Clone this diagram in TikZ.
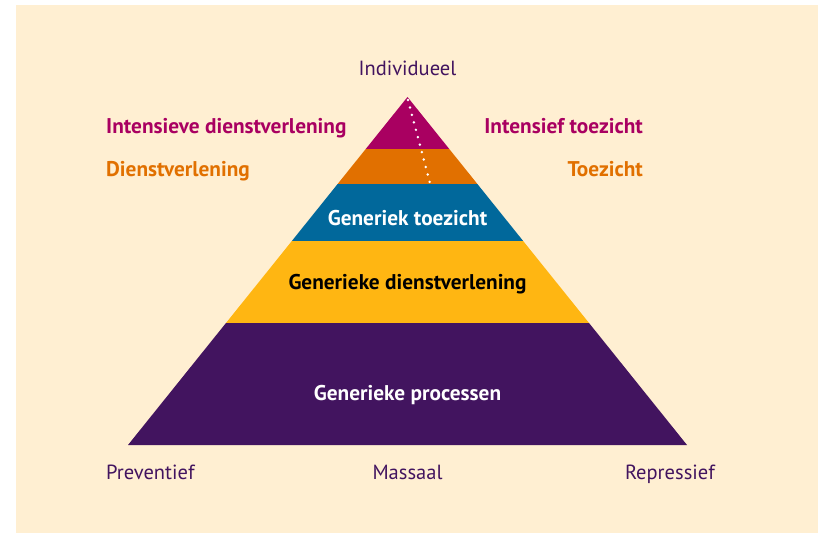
\documentclass[tikz,border=0pt]{standalone}
\usepackage{fontspec}
\setmainfont{PT Sans}
\definecolor{cream}{HTML}{FFEFD2}
\definecolor{rvviolet}{HTML}{A90061}
\definecolor{rvorange}{HTML}{E17000}
\definecolor{rvblue}{HTML}{01689B}
\definecolor{rvyellow}{HTML}{FFB612}
\definecolor{rvpurple}{HTML}{42145F}
\tikzset{
  lbl/.style={font=\fontsize{21.3}{24}\selectfont\bfseries, inner sep=0pt},
  axis/.style={font=\fontsize{20.5}{23}\selectfont, text=rvpurple, inner sep=0pt},
}
\begin{document}
\begin{tikzpicture}[x=1pt,y=-1pt]
\useasboundingbox (0,0) rectangle (818,534);
\fill[white] (0,0) rectangle (818,534);
\fill[cream] (16,5) rectangle (818,533);
\coordinate (apex) at (407.5,97);
\coordinate (bl) at (128,445);
\coordinate (br) at (687,445);
\begin{scope}
  \clip (apex) -- (br) -- (bl) -- cycle;
  \fill[rvviolet] (100,90) rectangle (720,149);
  \fill[rvorange] (100,149) rectangle (720,184);
  \fill[rvblue] (100,184) rectangle (720,241);
  \fill[rvyellow] (100,241) rectangle (720,323);
  \fill[rvpurple] (100,323) rectangle (720,446);
\end{scope}
\coordinate (d1) at (408,100);
\coordinate (d2) at (430,183);
\draw[white, line width=2.7pt, line cap=round, dash pattern=on 0pt off 7.7pt] (d1) -- (d2);
\node[axis, anchor=base] (ind) at (407.5,76) {Individueel};
\node[lbl, text=rvviolet, anchor=base west] (idv) at (106,133.5) {Intensieve dienstverlening};
\node[lbl, text=rvorange, anchor=base west] (dv) at (106,176.5) {Dienstverlening};
\node[lbl, text=rvviolet, anchor=base east] (itz) at (643,133.5) {Intensief toezicht};
\node[lbl, text=rvorange, anchor=base east] (tz) at (643,176.5) {Toezicht};
\node[lbl, text=white, anchor=base] (gt) at (407.5,225.5) {Generiek toezicht};
\node[lbl, text=black, anchor=base] (gd) at (407.5,290) {Generieke dienstverlening};
\node[lbl, text=white, anchor=base] (gp) at (407.5,400) {Generieke processen};
\node[axis, anchor=base west] (prev) at (106,479) {Preventief};
\node[axis, anchor=base] (mas) at (407.5,479) {Massaal};
\node[axis, anchor=base east] (rep) at (715,479) {Repressief};
\end{tikzpicture}
\end{document}
